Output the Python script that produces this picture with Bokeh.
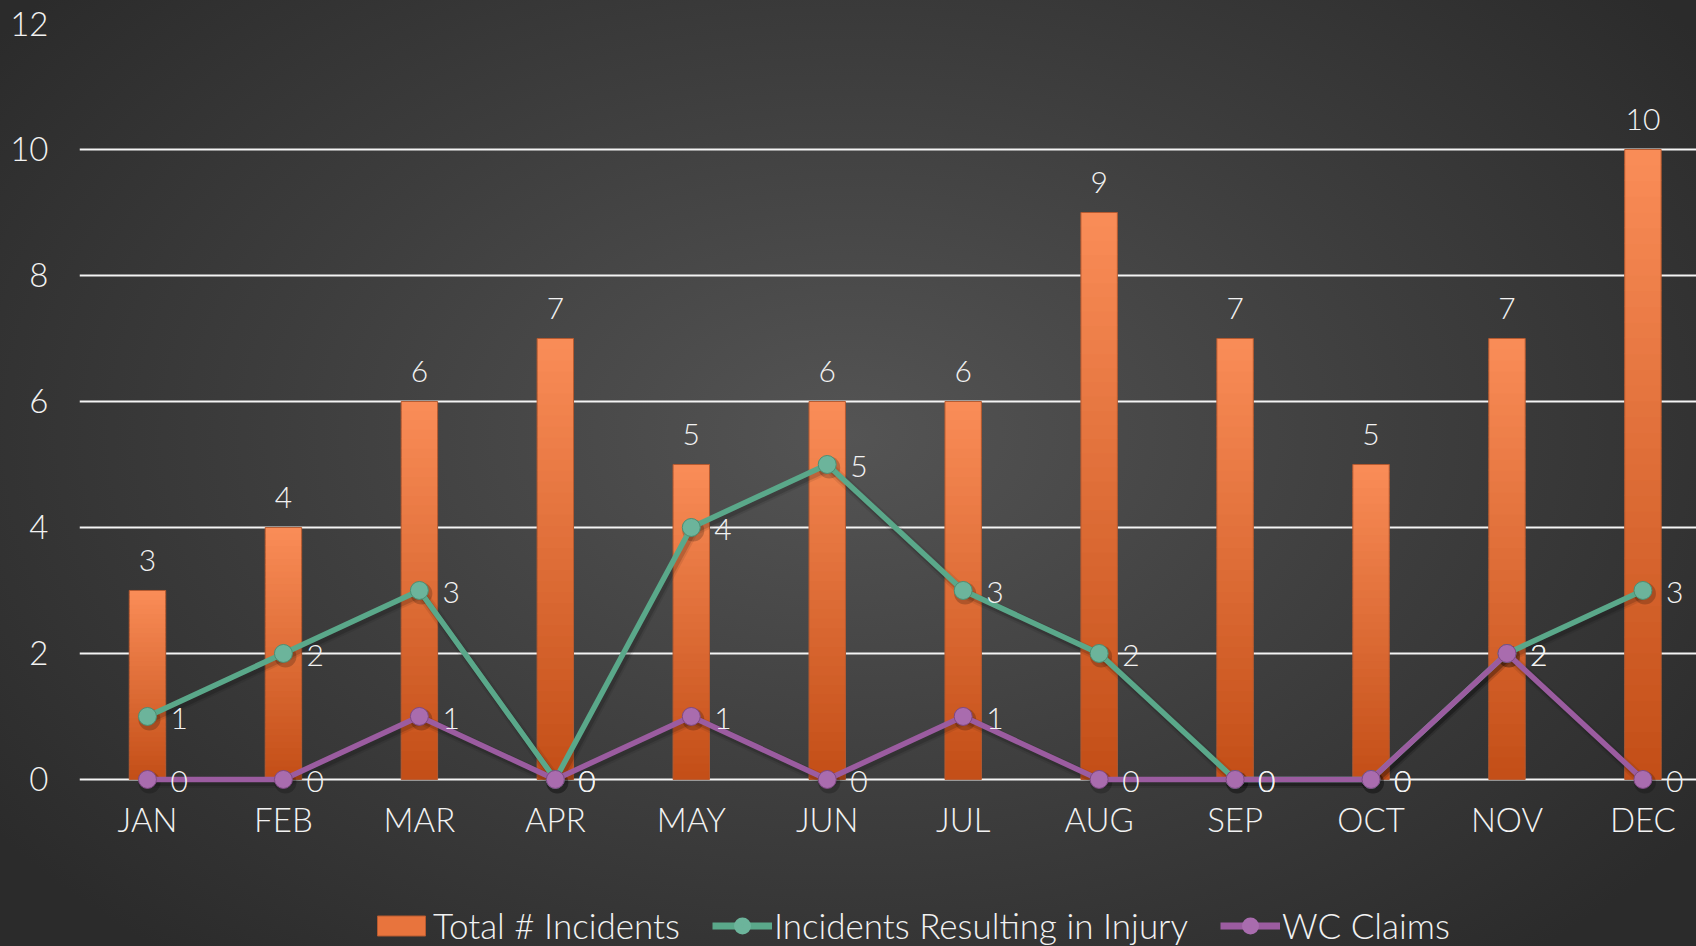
import numpy as np
from bokeh.plotting import figure
from bokeh.layouts import column
from bokeh.models import Range1d, FixedTicker, Legend, LegendItem, ColumnDataSource
from bokeh.core.properties import value
from bokeh.embed import file_html
from bokeh.resources import INLINE

# Monthly safety figures
months = ["JAN", "FEB", "MAR", "APR", "MAY", "JUN", "JUL", "AUG", "SEP", "OCT", "NOV", "DEC"]
total_incidents = [3, 4, 6, 7, 5, 6, 6, 9, 7, 5, 7, 10]
injury_incidents = [1, 2, 3, 0, 4, 5, 3, 2, 0, 0, 2, 3]
wc_claims = [0, 0, 1, 0, 1, 0, 1, 0, 0, 0, 2, 0]
y_ticks = [0, 2, 4, 6, 8, 10, 12]

FONT = "'Lato Light', Lato"
TEXT = "#f2f2f2"
BAR_TOP = np.array([0xFA, 0x8D, 0x58])
BAR_BOTTOM = np.array([0xC3, 0x4E, 0x17])
GREEN = "#5aa88a"
GREEN_FILL = "#6cb49b"
GREEN_EDGE = "#4c8f74"
PURPLE = "#9b5ca0"
PURPLE_FILL = "#a96cae"
PURPLE_EDGE = "#7f4984"

W, H = 1696, 946
MAIN_H = 890
x = list(range(len(months)))
x_end = 11.394
y_start = -0.35   # a little room below zero so markers and labels there are not clipped

p = figure(width=W, height=MAIN_H, x_range=Range1d(-0.5, x_end), y_range=Range1d(y_start, 12),
           output_backend="svg", toolbar_location=None,
           min_border_left=79, min_border_right=0, min_border_top=23,
           min_border_bottom=MAIN_H - 801)
p.border_fill_color = None
p.background_fill_color = None
p.outline_line_color = None

# axes
p.yaxis.ticker = FixedTicker(ticks=y_ticks)
p.xaxis.ticker = FixedTicker(ticks=x)
p.xaxis.major_label_overrides = {i: m for i, m in enumerate(months)}
for ax in (p.xaxis[0], p.yaxis[0]):
    ax.axis_line_color = None
    ax.major_tick_line_color = None
    ax.minor_tick_line_color = None
    ax.major_tick_out = 0
    ax.major_tick_in = 0
    ax.major_label_text_color = TEXT
    ax.major_label_text_font = FONT
    ax.major_label_text_font_size = "33px"
p.yaxis.major_label_standoff = 31
p.xaxis.major_label_standoff = -3

p.xgrid.grid_line_color = None
p.ygrid.ticker = FixedTicker(ticks=y_ticks)
p.ygrid.grid_line_color = "#f4f4f4"
p.ygrid.grid_line_width = 2

# bars with a vertical gradient, built from stacked slices of each bar
n_slices = 40
bx, bb, bt, bc = [], [], [], []
for i, v in enumerate(total_incidents):
    for k in range(n_slices):
        f = (k + 0.5) / n_slices
        rgb = BAR_BOTTOM + (BAR_TOP - BAR_BOTTOM) * f
        bx.append(i)
        bb.append(v * k / n_slices)
        bt.append(min(v, v * (k + 1) / n_slices + 0.02))
        bc.append("#%02x%02x%02x" % tuple(int(round(c)) for c in rgb))
slices = ColumnDataSource(dict(x=bx, bottom=bb, top=bt, color=bc))
bar_w = 0.268
p.vbar(x="x", bottom="bottom", top="top", width=bar_w, source=slices,
       fill_color="color", line_color=None)
bar_src = ColumnDataSource(dict(x=x, top=total_incidents, label=[str(v) for v in total_incidents]))
p.vbar(x="x", top="top", width=bar_w, source=bar_src,
       fill_alpha=0, line_color="#b65a30", line_width=1)

# soft drop shadows for the lines, drawn a few pixels down-right
dy = 3.0 / 63.0
dx = 2.0 / 135.95
p.extra_y_ranges = {"shadow": Range1d(y_start + dy, 12 + dy)}
p.extra_x_ranges = {"shadow": Range1d(-0.5 - dx, x_end - dx)}
for series in (injury_incidents, wc_claims):
    for w, a in ((11, 0.08), (7, 0.15)):
        p.line(x, series, line_color="black", line_alpha=a, line_width=w,
               x_range_name="shadow", y_range_name="shadow")
    p.scatter(x, series, size=22, fill_color="black", fill_alpha=0.2, line_color=None,
              x_range_name="shadow", y_range_name="shadow")

inj_src = ColumnDataSource(dict(x=x, y=injury_incidents, label=[str(v) for v in injury_incidents]))
wc_src = ColumnDataSource(dict(x=x, y=wc_claims, label=[str(v) for v in wc_claims]))

p.line("x", "y", source=inj_src, line_color=GREEN, line_width=5.5)
p.scatter("x", "y", source=inj_src, size=18, fill_color=GREEN_FILL,
          line_color=GREEN_EDGE, line_width=1)
p.line("x", "y", source=wc_src, line_color=PURPLE, line_width=5.5)
p.scatter("x", "y", source=wc_src, size=18, fill_color=PURPLE_FILL,
          line_color=PURPLE_EDGE, line_width=1)

# value labels
p.text("x", "top", text="label", source=bar_src, text_align="center", text_baseline="alphabetic",
       y_offset=-30, text_color=TEXT, text_font=value(FONT), text_font_size="30px")
for src in (inj_src, wc_src):
    p.text("x", "y", text="label", source=src, text_align="left", text_baseline="middle",
           x_offset=23, y_offset=2, text_color=TEXT, text_font=value(FONT), text_font_size="30px")

# legend strip under the chart; its key glyphs come from hidden copies of the series
lg = figure(width=W, height=H - MAIN_H, x_range=Range1d(-0.5, x_end), y_range=Range1d(y_start, 12),
            output_backend="svg", toolbar_location=None, x_axis_type=None, y_axis_type=None,
            min_border=0)
lg.border_fill_color = None
lg.background_fill_color = None
lg.outline_line_color = None
lg.grid.visible = False
key_bar = lg.vbar(x="x", top="top", width=bar_w, source=bar_src,
                  fill_color="#e8743d", line_color="#b65a30", visible=False)
key_g_line = lg.line("x", "y", source=inj_src, line_color=GREEN, line_width=7, visible=False)
key_g_pt = lg.scatter("x", "y", source=inj_src, fill_color=GREEN_FILL,
                      line_color=GREEN_FILL, line_width=7, visible=False)
key_m_line = lg.line("x", "y", source=wc_src, line_color=PURPLE, line_width=7, visible=False)
key_m_pt = lg.scatter("x", "y", source=wc_src, fill_color=PURPLE_FILL,
                      line_color=PURPLE_FILL, line_width=7, visible=False)

legend = Legend(items=[
    LegendItem(label="Total # Incidents", renderers=[key_bar]),
    LegendItem(label="Incidents Resulting in Injury", renderers=[key_g_line, key_g_pt]),
    LegendItem(label="WC Claims", renderers=[key_m_line, key_m_pt]),
], orientation="horizontal", location=(292, 0))
legend.click_policy = "none"
legend.inactive_fill_alpha = 0
legend.background_fill_alpha = 0
legend.border_line_color = None
legend.padding = 0
legend.margin = 0
legend.spacing = 32
legend.label_standoff = 2
legend.glyph_width = 60
legend.glyph_height = 25
legend.label_text_color = TEXT
legend.label_text_font = FONT
legend.label_text_font_size = "35px"
lg.add_layout(legend, "center")

layout = column(p, lg, spacing=0)
layout.styles = {"background": "radial-gradient(ellipse 62% 72% at 50% 46%, #545454 0%, #3d3d3d 55%, #2b2b2b 100%)"}

open("out.html", "w").write(file_html(layout, INLINE))
